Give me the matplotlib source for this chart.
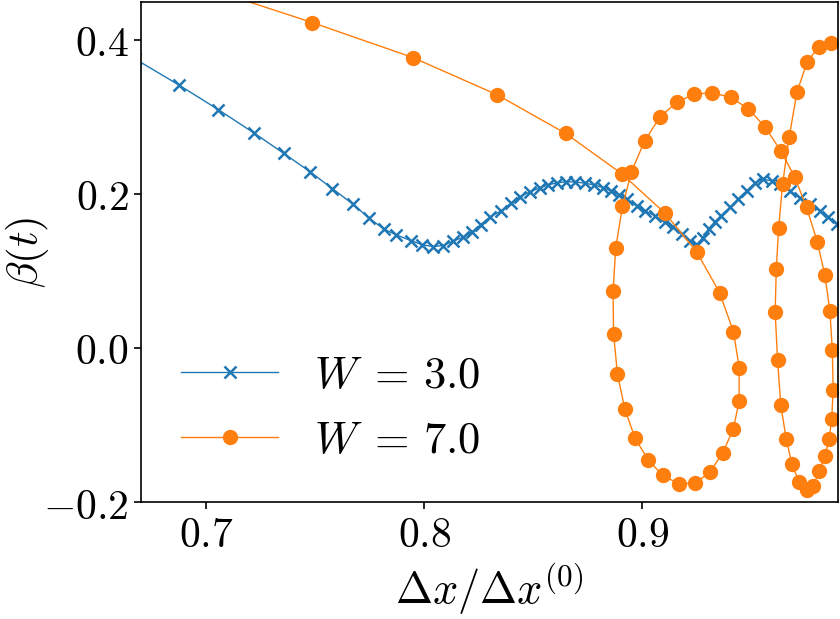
import matplotlib
matplotlib.use("Agg")
import matplotlib.pyplot as plt
from matplotlib.ticker import FuncFormatter

plt.rcParams["mathtext.fontset"] = "cm"
plt.rcParams["font.family"] = "serif"

# --- data ---
w3_x = [0.6672, 0.6874, 0.7056, 0.7219, 0.7356, 0.7476, 0.7579, 0.7673, 0.7747,
        0.7814, 0.7872, 0.7938, 0.7992, 0.8042, 0.8086, 0.8132, 0.8178, 0.8217,
        0.8259, 0.8300, 0.8354, 0.8400, 0.8438, 0.8484, 0.8530, 0.8567, 0.8608,
        0.8649, 0.8690, 0.8736, 0.8778, 0.8819, 0.8856, 0.8892, 0.8929, 0.8975,
        0.9011, 0.9057, 0.9103, 0.9140, 0.9180, 0.9218, 0.9249, 0.9278, 0.9305,
        0.9333, 0.9360, 0.9401, 0.9439, 0.9478, 0.9516, 0.9553, 0.9593, 0.9631,
        0.9677, 0.9722, 0.9768, 0.9814, 0.9852, 0.9891]
w3_y = [0.3755, 0.3415, 0.3093, 0.2791, 0.2525, 0.2288, 0.2068, 0.1867, 0.1686,
        0.1545, 0.1467, 0.1394, 0.1338, 0.1316, 0.1329, 0.1385, 0.1436, 0.1501,
        0.1600, 0.1697, 0.1781, 0.1884, 0.1961, 0.2026, 0.2077, 0.2116, 0.2142,
        0.2155, 0.2155, 0.2138, 0.2116, 0.2081, 0.2039, 0.1987, 0.1932, 0.1845,
        0.1781, 0.1716, 0.1630, 0.1565, 0.1480, 0.1394, 0.1342, 0.1432, 0.1548,
        0.1639, 0.1716, 0.1823, 0.1932, 0.2039, 0.2142, 0.2190, 0.2168, 0.2125,
        0.2039, 0.1952, 0.1867, 0.1781, 0.1694, 0.1609]

w7_x = [0.6947, 0.7487, 0.7949, 0.8334, 0.8649, 0.8905, 0.9103, 0.9249, 0.9354,
        0.9418, 0.9444, 0.9444, 0.9417, 0.9369, 0.9310, 0.9242, 0.9167, 0.9094,
        0.9028, 0.8967, 0.8920, 0.8886, 0.8868, 0.8866, 0.8878, 0.8909, 0.8950,
        0.9010, 0.9080, 0.9157, 0.9238, 0.9320, 0.9405, 0.9485, 0.9563, 0.9635,
        0.9698, 0.9753, 0.9802, 0.9837, 0.9860, 0.9871, 0.9875, 0.9868, 0.9857,
        0.9837, 0.9811, 0.9784, 0.9753, 0.9719, 0.9686, 0.9660, 0.9635, 0.9620,
        0.9609, 0.9614, 0.9625, 0.9643, 0.9673, 0.9709, 0.9756, 0.9808, 0.9863]
w7_y = [0.4723, 0.4223, 0.3768, 0.3286, 0.2783, 0.2262, 0.1751, 0.1248, 0.0719,
        0.0210, -0.0258, -0.0688, -0.1054, -0.1359, -0.1613, -0.1755, -0.1764,
        -0.1655, -0.1458, -0.1174, -0.0796, -0.0339, 0.0185, 0.0735, 0.1299,
        0.1836, 0.2284, 0.2684, 0.2994, 0.3187, 0.3294, 0.3312, 0.3252, 0.3106,
        0.2868, 0.2555, 0.2223, 0.1823, 0.1381, 0.0942, 0.0481, -0.0026, -0.0542,
        -0.0929, -0.1178, -0.1403, -0.1604, -0.1790, -0.1841, -0.1746, -0.1510,
        -0.1187, -0.0745, -0.0155, 0.0468, 0.1019, 0.1557, 0.2125, 0.2735, 0.3320,
        0.3716, 0.3901, 0.3961]

labels = [r"$W\;=\,3.0$", r"$W\;=\,7.0$"]
xticks = [0.7, 0.8, 0.9]
yticks = [-0.2, 0.0, 0.2, 0.4]

# %% --- plot ---
fig = plt.figure(figsize=(8.4, 6.19), dpi=100)
ax = fig.add_axes([0.1674, 0.189, 0.8302, 0.8078])

ax.plot(w3_x, w3_y, color="#1f77b4", lw=1.0, marker="x", markersize=9,
        markeredgewidth=1.8, label=labels[0])
ax.plot(w7_x, w7_y, color="#ff7f0e", lw=1.0, marker="o", markersize=10,
        label=labels[1])

ax.set_xlim(0.67, 0.9897)
ax.set_ylim(-0.2, 0.449)
ax.set_xticks(xticks)
ax.set_yticks(yticks)
fmt = FuncFormatter(lambda v, pos: r"$%.1f$" % v if abs(v) > 1e-9 else r"$0.0$")
ax.xaxis.set_major_formatter(fmt)
ax.yaxis.set_major_formatter(fmt)
ax.tick_params(labelsize=30, length=5, width=1.2)
for s in ax.spines.values():
    s.set_linewidth(1.2)

ax.set_xlabel(r"$\Delta x/\Delta x^{(0)}$", fontsize=32, labelpad=4)
ax.set_ylabel(r"$\beta(t)$", fontsize=31)
ax.yaxis.set_label_coords(-0.128, 0.5)

ax.legend(loc="lower left", frameon=False, fontsize=32, handlelength=2.2)

fig.savefig("out.png", dpi=100)
